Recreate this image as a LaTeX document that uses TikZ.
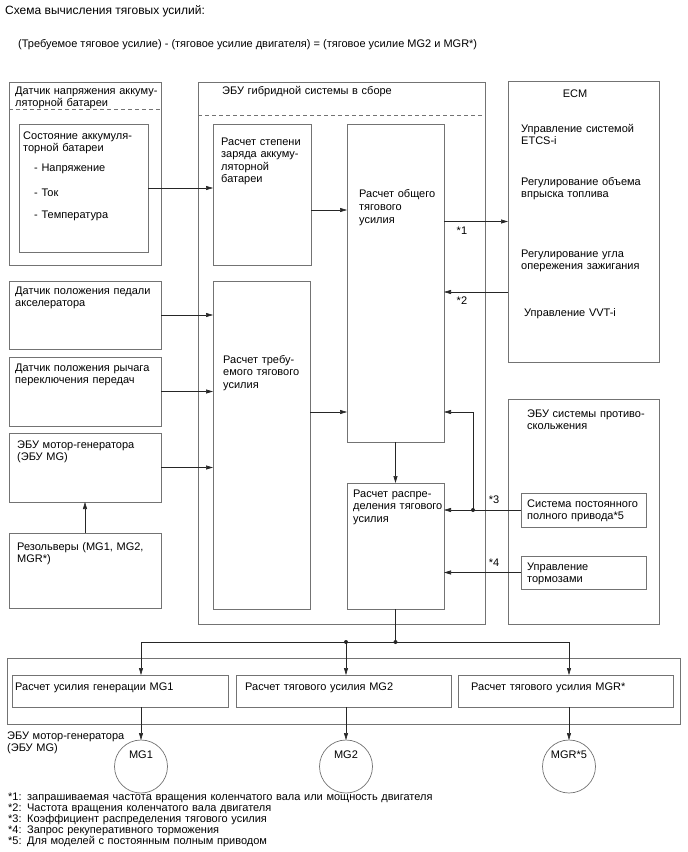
\documentclass[tikz,border=0pt]{standalone}
\usepackage{fontspec}
\setmainfont{Liberation Sans}
\usetikzlibrary{arrows.meta,calc}

\definecolor{boxgray}{gray}{0.45}
\definecolor{wiregray}{gray}{0.15}

\begin{document}
\begin{tikzpicture}[
    x=1pt, y=-1pt,
    box/.style={draw=boxgray, line width=0.7pt, anchor=north west, inner sep=0pt, outer sep=0pt},
    motor/.style={draw=boxgray, line width=0.7pt, circle, minimum size=53pt, inner sep=0pt, outer sep=0pt},
    txt/.style={anchor=base west, inner sep=0pt, align=left, text width=250pt, font=\fontsize{11}{12.5}\selectfont},
    lbl/.style={inner sep=0pt, font=\fontsize{11}{12.5}\selectfont},
    note/.style={txt, text width=520pt, font=\fontsize{11}{11}\selectfont},
    wire/.style={draw=wiregray, line width=0.6pt},
    arr/.style={wire, -{Triangle[length=7pt,width=4pt]}},
    sep/.style={draw=boxgray, line width=0.6pt, dash pattern=on 4pt off 3pt},
    dot/.style={fill=wiregray},
]
    \useasboundingbox (0,0) rectangle (688,852);

    \node [lbl, anchor=base west, font=\fontsize{12}{14}\selectfont] (title) at (5,14) {Схема вычисления тяговых усилий:};
    \node [lbl, anchor=base west] (formula) at (18,47)
        {(Требуемое тяговое усилие) - (тяговое усилие двигателя) = (тяговое усилие MG2 и MGR*)};

    % left column
    \node [box, minimum width=152, minimum height=183] (batsens) at (9,82) {};
    \node [box, minimum width=129, minimum height=128] (batstate) at (19,124) {};
    \node [box, minimum width=152, minimum height=68] (accel) at (9,281) {};
    \node [box, minimum width=152, minimum height=69] (gear) at (9,357) {};
    \node [box, minimum width=152, minimum height=69] (mgecu) at (9,433) {};
    \node [box, minimum width=152, minimum height=75] (resolv) at (9,533) {};

    \node [txt] (batsenstxt) at (15,94) {Датчик напряжения аккуму-\\ляторной батареи};
    \node [txt] (batstatetxt) at (23,139) {Состояние аккумуля-\\торной батареи};
    \node [txt] (volt) at (34,171) {- Напряжение};
    \node [txt] (curr) at (34,196) {- Ток};
    \node [txt] (temp) at (34,218) {- Температура};
    \node [txt] (acceltxt) at (15,294) {Датчик положения педали\\акселератора};
    \node [txt] (geartxt) at (15,371) {Датчик положения рычага\\переключения передач};
    \node [txt] (mgecutxt) at (17,448) {ЭБУ мотор-генератора\\(ЭБУ MG)};
    \node [txt] (resolvtxt) at (17,550) {Резольверы (MG1, MG2,\\MGR*)};

    % hybrid ECU
    \node [box, minimum width=287, minimum height=542] (hv) at (198,82) {};
    \node [box, minimum width=98, minimum height=141] (soc) at (213,124) {};
    \node [box, minimum width=97, minimum height=318] (total) at (347,124) {};
    \node [box, minimum width=97, minimum height=328] (req) at (213,281) {};
    \node [box, minimum width=97, minimum height=126] (distr) at (347,483) {};

    \node [txt] (hvtxt) at (222,94) {ЭБУ гибридной системы в сборе};
    \node [txt] (soctxt) at (221,145) {Расчет степени\\заряда аккуму-\\ляторной\\батареи};
    \node [txt, font=\fontsize{11}{13}\selectfont] (totaltxt) at (359,197) {Расчет общего\\тягового\\усилия};
    \node [txt] (reqtxt) at (223,363) {Расчет требу-\\емого тягового\\усилия};
    \node [txt] (distrtxt) at (353,497) {Расчет распре-\\деления тягового\\усилия};

    % ECM and skid control ECU
    \node [box, minimum width=151, minimum height=281] (ecm) at (508,81) {};
    \node [box, minimum width=151, minimum height=225] (abs) at (508,399) {};
    \node [box, minimum width=125, minimum height=34] (awd) at (521,493) {};
    \node [box, minimum width=125, minimum height=33] (brake) at (521,556) {};

    \node [lbl, anchor=base] (ecmtxt) at (575,97) {ECM};
    \node [txt] (etcs) at (521,132) {Управление системой\\ETCS-i};
    \node [txt] (inject) at (521,185) {Регулирование объема\\впрыска топлива};
    \node [txt] (ignit) at (521,257) {Регулирование угла\\опережения зажигания};
    \node [txt] (vvt) at (524,316) {Управление VVT-i};
    \node [txt] (abstxt) at (527,417) {ЭБУ системы противо-\\скольжения};
    \node [txt] (awdtxt) at (527,507) {Система постоянного\\полного привода*5};
    \node [txt] (braketxt) at (527,570) {Управление\\тормозами};

    % MG ECU
    \node [box, minimum width=673, minimum height=66] (mgout) at (7,658) {};
    \node [box, minimum width=216, minimum height=32] (mg1calc) at (12,675) {};
    \node [box, minimum width=215, minimum height=32] (mg2calc) at (236,675) {};
    \node [box, minimum width=215, minimum height=32] (mgrcalc) at (458,675) {};

    \node [txt] (mg1calctxt) at (15,690) {Расчет усилия генерации MG1};
    \node [txt] (mg2calctxt) at (245,690) {Расчет тягового усилия MG2};
    \node [txt] (mgrcalctxt) at (471,690) {Расчет тягового усилия MGR*};
    \node [txt] (mgouttxt) at (7,739) {ЭБУ мотор-генератора\\(ЭБУ MG)};

    \node [motor] (mg1) at (141,766.5) {};
    \node [motor] (mg2) at (346,766.5) {};
    \node [motor] (mgr) at (569,766.5) {};
    \node [lbl, anchor=base] (mg1txt) at ($(mg1.center)+(0,-8.5)$) {MG1};
    \node [lbl, anchor=base] (mg2txt) at ($(mg2.center)+(0,-8.5)$) {MG2};
    \node [lbl, anchor=base] (mgrtxt) at ($(mgr.center)+(0,-8.5)$) {MGR*5};

    \node [note] (notes) at (8,800)
        {{*}1: запрашиваемая частота вращения коленчатого вала или мощность двигателя\\
         {*}2: Частота вращения коленчатого вала двигателя\\
         {*}3: Коэффициент распределения тягового усилия\\
         {*}4: Запрос рекуперативного торможения\\
         {*}5: Для моделей с постоянным полным приводом};

    % separators
    \draw [sep]
        ([yshift=-27pt]batsens.north west) -- ([yshift=-27pt]batsens.north east)
        ;
    \draw [sep]
        ([yshift=-33pt]hv.north west) -- ([yshift=-33pt]hv.north east)
        ;

    % connectors
    \coordinate (socout) at ($(soc.east)+(0,15.5)$);
    \coordinate (ecmout) at ($(ecm.west)+(0,70.5)$);
    \coordinate (reqout) at ($(req.east)+(0,-33)$);
    \coordinate (j3) at ($(awd.west)+(-48,0)$);
    \coordinate (j2) at ($(distr.south)+(0,33)$);
    \coordinate (j1) at (j2 -| mg2);

    \draw [arr]
        (batstate.east) -- (batstate.east -| soc.west)
        ;
    \draw [arr]
        (socout) -- (socout -| total.west)
        ;
    \draw [arr]
        (total.east |- ecm.west) -- (ecm.west)
            node [lbl, pos=0.28, below=5pt] (n1) {*1}
        ;
    \draw [arr]
        (ecmout) -- (ecmout -| total.east)
            node [lbl, pos=0.72, below=5pt] (n2) {*2}
        ;
    \draw [arr]
        (accel.east) -- (accel.east -| req.west)
        ;
    \draw [arr]
        (gear.east) -- (gear.east -| req.west)
        ;
    \draw [arr]
        (mgecu.east) -- (mgecu.east -| req.west)
        ;
    \draw [arr]
        (resolv.north) -- (mgecu.south)
        ;
    \draw [arr]
        (reqout) -- (reqout -| total.west)
        ;
    \draw [arr]
        (total.south) -- (distr.north)
        ;
    \draw [arr]
        (awd.west) -- (awd.west -| distr.east)
            node [lbl, pos=0.35, above=6pt] (n3) {*3}
        ;
    \draw [arr]
        (j3) |- (reqout -| total.east)
        ;
    \draw [arr]
        (brake.west) -- (brake.west -| distr.east)
            node [lbl, pos=0.35, above=6pt] (n4) {*4}
        ;
    \draw [wire]
        (distr.south) -- (j2)
        ;
    \draw [wire]
        (j1) -- (j2)
        ;
    \draw [arr]
        (j2) -| (mgr |- mgrcalc.north)
        ;
    \draw [arr]
        (j1) -| (mg1 |- mg1calc.north)
        ;
    \draw [arr]
        (j1) -- (mg2 |- mg2calc.north)
        ;
    \draw [arr]
        (mg1 |- mg1calc.south) -- (mg1)
        ;
    \draw [arr]
        (mg2 |- mg2calc.south) -- (mg2)
        ;
    \draw [arr]
        (mgr |- mgrcalc.south) -- (mgr)
        ;

    \fill [dot] (j3) circle (2pt);
    \fill [dot] (j2) circle (2pt);
    \fill [dot] (j1) circle (2pt);
\end{tikzpicture}
\end{document}
